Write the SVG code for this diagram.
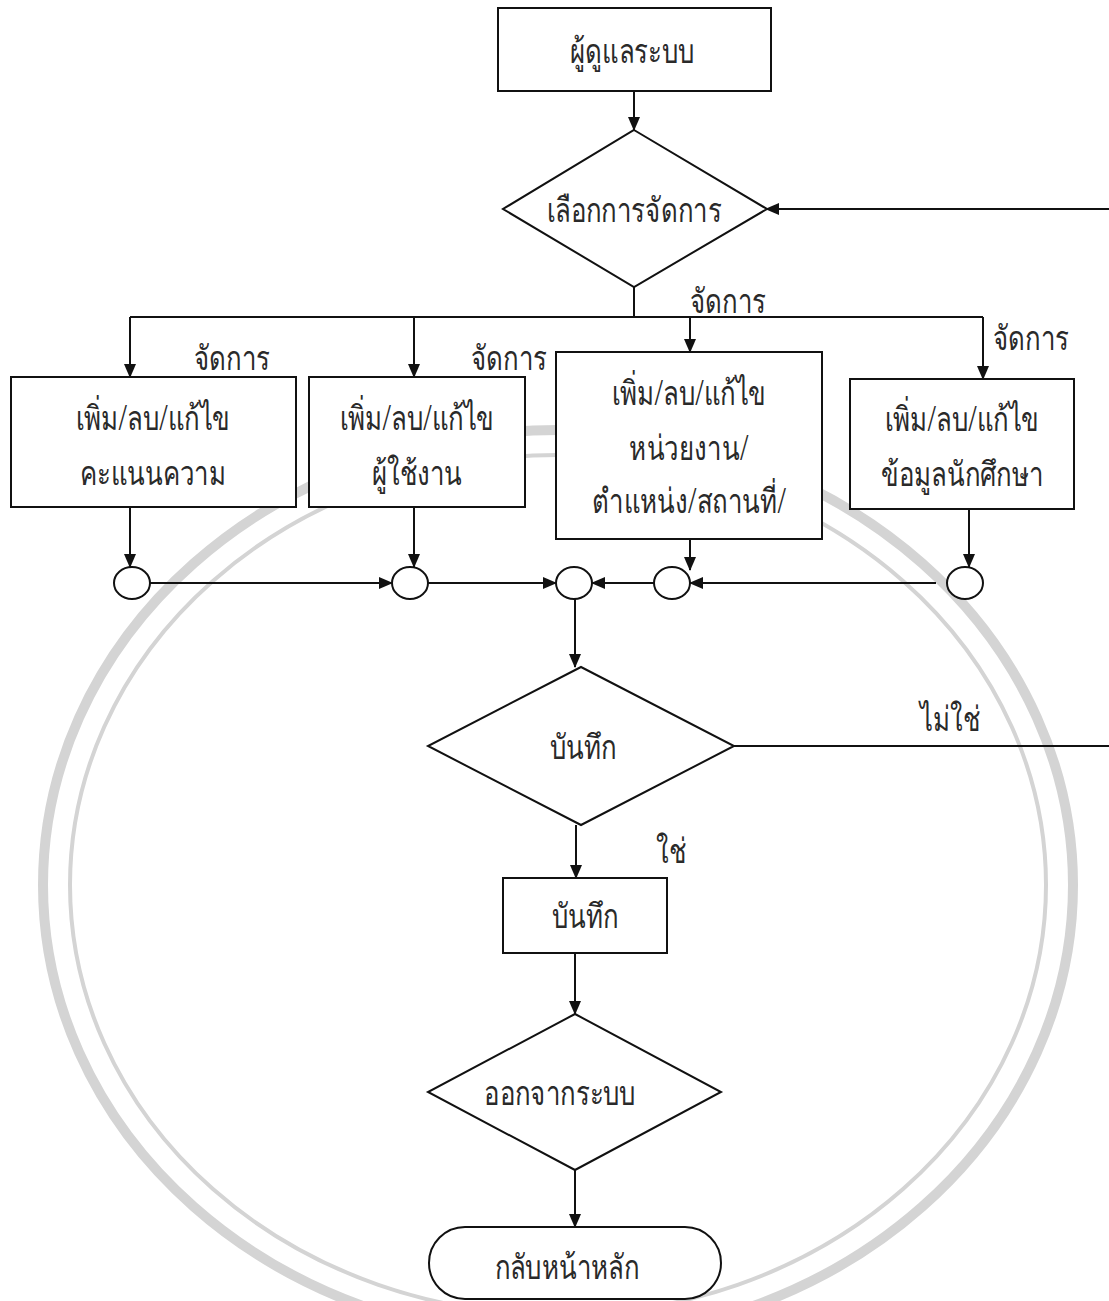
<svg xmlns="http://www.w3.org/2000/svg" width="1109" height="1301" viewBox="0 0 1109 1301">
<defs>
<marker id="arr" markerUnits="userSpaceOnUse" markerWidth="14" markerHeight="12" refX="13" refY="6" orient="auto">
<path d="M0,0 L14,6 L0,12 Z" fill="#111"/>
</marker>
<style>
.n{fill:#fff;stroke:#111;stroke-width:2}
.c line,.c path{stroke:#111;stroke-width:2;fill:none}
.a{marker-end:url(#arr)}
text{font-family:"Noto Sans","DejaVu Sans",sans-serif;font-size:34px;font-weight:300;fill:#2a2a2a;text-anchor:middle;dominant-baseline:central;transform-box:fill-box;transform-origin:center;transform:scaleX(0.76)}
.wm{fill:none;stroke:#d4d4d4}
</style>
</defs>
<rect width="1109" height="1301" fill="#fff"/>
<g id="watermark">
<ellipse class="wm" cx="558" cy="885" rx="515" ry="455" stroke-width="10"/>
<ellipse class="wm" cx="558" cy="885" rx="488" ry="430" stroke-width="4"/>
</g>
<g id="connectors" class="c">
<line class="a" x1="634" y1="91" x2="634" y2="130"/>
<line class="a" x1="1109" y1="209" x2="766" y2="209"/>
<line x1="634" y1="287" x2="634" y2="317"/>
<line x1="130" y1="317" x2="983" y2="317"/>
<line class="a" x1="130" y1="317" x2="130" y2="377"/>
<line class="a" x1="414" y1="317" x2="414" y2="377"/>
<line class="a" x1="690" y1="317" x2="690" y2="352"/>
<line class="a" x1="983" y1="317" x2="983" y2="379"/>
<line class="a" x1="130" y1="507" x2="130" y2="567"/>
<line class="a" x1="414" y1="507" x2="414" y2="567"/>
<line class="a" x1="690" y1="539" x2="690" y2="570"/>
<line class="a" x1="969" y1="509" x2="969" y2="567"/>
<line class="a" x1="150" y1="583" x2="392" y2="583"/>
<line class="a" x1="428" y1="583" x2="556" y2="583"/>
<line class="a" x1="654" y1="583" x2="592" y2="583"/>
<line class="a" x1="936" y1="583" x2="690" y2="583"/>
<line class="a" x1="575" y1="599" x2="575" y2="667"/>
<line x1="734" y1="746" x2="1109" y2="746"/>
<line class="a" x1="576" y1="825" x2="576" y2="878"/>
<line class="a" x1="575" y1="953" x2="575" y2="1014"/>
<line class="a" x1="575" y1="1170" x2="575" y2="1227"/>
<text x="728" y="300">จัดการ</text>
<text x="1031" y="337">จัดการ</text>
<text x="232" y="357">จัดการ</text>
<text x="509" y="357">จัดการ</text>
<text x="950" y="718">ไม่ใช่</text>
<text x="671" y="850">ใช่</text>
</g>
<g id="admin"><rect class="n" x="498" y="8" width="273" height="83"/><text x="632" y="50">ผู้ดูแลระบบ</text></g>
<g id="choose"><polygon class="n" points="634,130 767,209 634,287 503,209"/><text x="634" y="209">เลือกการจัดการ</text></g>
<g id="score"><rect class="n" x="11" y="377" width="285" height="130"/><text x="153" y="417">เพิ่ม/ลบ/แก้ไข</text><text x="153" y="472">คะแนนความ</text></g>
<g id="users"><rect class="n" x="309" y="377" width="216" height="130"/><text x="417" y="417">เพิ่ม/ลบ/แก้ไข</text><text x="417" y="472">ผู้ใช้งาน</text></g>
<g id="units"><rect class="n" x="556" y="352" width="266" height="187"/><text x="689" y="392">เพิ่ม/ลบ/แก้ไข</text><text x="689" y="447">หน่วยงาน/</text><text x="689" y="500">ตำแหน่ง/สถานที่/</text></g>
<g id="students"><rect class="n" x="850" y="379" width="224" height="130"/><text x="962" y="418">เพิ่ม/ลบ/แก้ไข</text><text x="962" y="473">ข้อมูลนักศึกษา</text></g>
<g id="j1"><ellipse class="n" cx="132" cy="583" rx="18" ry="16"/></g>
<g id="j2"><ellipse class="n" cx="410" cy="583" rx="18" ry="16"/></g>
<g id="j3"><ellipse class="n" cx="574" cy="583" rx="18" ry="16"/></g>
<g id="j4"><ellipse class="n" cx="672" cy="583" rx="18" ry="16"/></g>
<g id="j5"><ellipse class="n" cx="965" cy="583" rx="18" ry="16"/></g>
<g id="save-q"><polygon class="n" points="581,667 734,746 581,825 428,746"/><text x="583" y="746">บันทึก</text></g>
<g id="save"><rect class="n" x="503" y="878" width="164" height="75"/><text x="585" y="915">บันทึก</text></g>
<g id="logout"><polygon class="n" points="575,1014 721,1092 575,1170 428,1092"/><text x="560" y="1092">ออกจากระบบ</text></g>
<g id="home"><rect class="n" x="429" y="1227" width="292" height="72" rx="36"/><text x="567" y="1266">กลับหน้าหลัก</text></g>
</svg>
